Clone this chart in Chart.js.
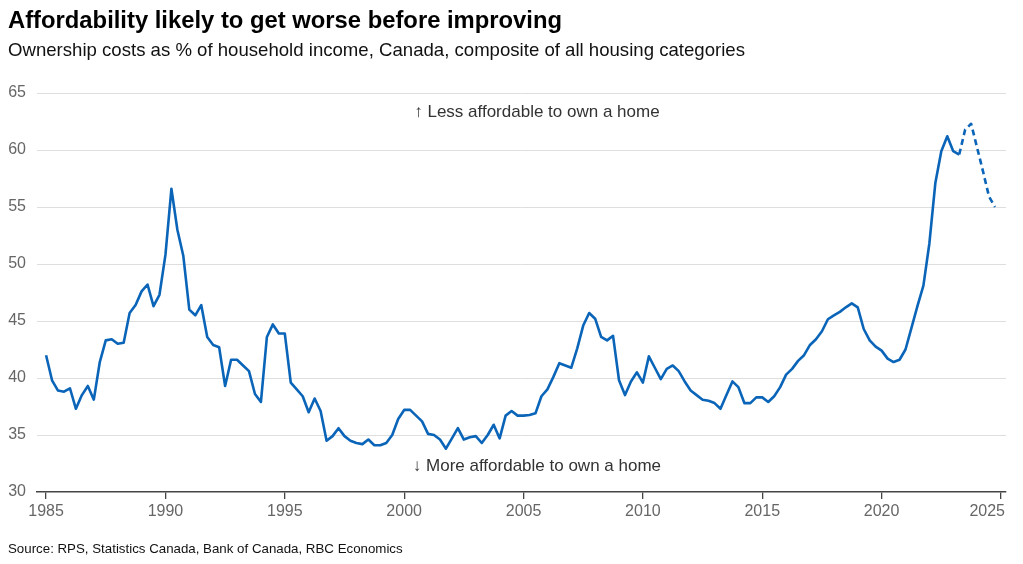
<!DOCTYPE html>
<html>
<head>
<meta charset="utf-8">
<script src="https://cdn.jsdelivr.net/npm/chart.js@4.4.1/dist/chart.umd.min.js"></script>
<style>
  html, body { margin: 0; padding: 0; background: #fff; }
  body { width: 1023px; height: 564px; position: relative; overflow: hidden;
         font-family: 'Liberation Sans', Arial, sans-serif; color: #111; }
  #wrap { position: absolute; left: 0; top: 0; width: 1023px; height: 564px; }
  .txt { position: absolute; left: 8px; line-height: 1; white-space: nowrap; }
  .title    { top: 8px;   font-size: 23.8px; font-weight: bold; color: #000; }
  .subtitle { top: 41px;  font-size: 18.6px; }
  .source   { top: 542px; font-size: 13.3px; }
</style>
</head>
<body>
<div id="wrap"><canvas id="chart"></canvas></div>
<div class="txt title">Affordability likely to get worse before improving</div>
<div class="txt subtitle">Ownership costs as % of household income, Canada, composite of all housing categories</div>
<div class="txt source">Source: RPS, Statistics Canada, Bank of Canada, RBC Economics</div>

<script>
/* Ownership costs as % of household income, quarterly from 1985Q1 */

const START_YEAR = 1985;   // first quarter of the series
const FONT       = '"Liberation Sans", Arial, sans-serif';
const LINE_COLOR = '#0a64b8';

// ── Data ──────────────────────────────────────────────────────────────────
// actual: 1985Q1 .. 2023Q2
const actual = [
    42.0, 39.8, 38.9, 38.8, 39.1, 37.3, 38.5, 39.3, 38.1, 41.4,
    43.3, 43.4, 43.0, 43.1, 45.7, 46.4, 47.6, 48.2, 46.3, 47.3,
    50.8, 56.6, 53.0, 50.7, 46.0, 45.5, 46.4, 43.6, 42.9, 42.7,
    39.3, 41.6, 41.6, 41.1, 40.6, 38.6, 37.9, 43.6, 44.7, 43.9,
    43.9, 39.6, 39.0, 38.4, 37.0, 38.2, 37.1, 34.5, 34.9, 35.6,
    34.9, 34.5, 34.3, 34.2, 34.6, 34.1, 34.1, 34.3, 35.0, 36.4,
    37.2, 37.2, 36.7, 36.2, 35.1, 35.0, 34.6, 33.8, 34.7, 35.6,
    34.6, 34.8, 34.9, 34.3, 35.0, 35.9, 34.7, 36.7, 37.1, 36.7,
    36.7, 36.75, 36.9, 38.4, 39.0, 40.1, 41.3, 41.1, 40.9, 42.6,
    44.6, 45.7, 45.2, 43.6, 43.3, 43.7, 39.8, 38.5, 39.7, 40.5,
    39.6, 41.9, 40.9, 39.9, 40.8, 41.1, 40.6, 39.7, 38.9, 38.5,
    38.1, 38.0, 37.8, 37.3, 38.5, 39.7, 39.2, 37.8, 37.8, 38.3,
    38.3, 37.9, 38.4, 39.2, 40.3, 40.8, 41.5, 42.0, 42.9, 43.4,
    44.1, 45.15, 45.5, 45.8, 46.2, 46.55, 46.2, 44.3, 43.3, 42.75,
    42.4, 41.7, 41.4, 41.6, 42.5, 44.4, 46.3, 48.1, 51.8, 57.1,
    59.9, 61.2, 59.9, 59.6
];
// forecast: 2023Q2 (joins last actual) .. 2024Q4
const forecast = [59.6, 61.8, 62.3, 60.2, 58.1, 55.9, 55.0];

const xTicks = [1985, 1990, 1995, 2000, 2005, 2010, 2015, 2020, 2025];
const yTicks = [30, 35, 40, 45, 50, 55, 60, 65];

const notes = [
    { text: '\u2191 Less affordable to own a home', x: 2005.56, y: 63.3 },
    { text: '\u2193 More affordable to own a home', x: 2005.56, y: 32.25 }
];

const toPoints = (vals, offset) =>
    vals.map((v, i) => ({ x: START_YEAR + (offset + i) / 4, y: v }));

// ── Year labels + annotations ─────────────────────────────────────────────
const overlay = {
    id: 'overlay',
    afterDraw(chart) {
        const { ctx, scales: { x, y } } = chart;
        ctx.save();
        ctx.font = '16px ' + FONT;
        ctx.fillStyle = '#666';
        ctx.textBaseline = 'top';
        xTicks.forEach((yr, i) => {
            const px   = x.getPixelForValue(yr);
            const last = i === xTicks.length - 1;
            ctx.textAlign = last ? 'right' : 'center';
            ctx.fillText(String(yr), last ? px + 4 : px, x.top + 12);
        });

        ctx.font = '17px ' + FONT;
        ctx.fillStyle = '#333';
        ctx.textAlign = 'center';
        ctx.textBaseline = 'middle';
        notes.forEach(n => ctx.fillText(n.text, x.getPixelForValue(n.x), y.getPixelForValue(n.y)));
        ctx.restore();
    }
};

// ── Chart ─────────────────────────────────────────────────────────────────
new Chart(document.getElementById('chart'), {
    type: 'line',
    data: {
        datasets: [
            {
                label: 'Actual',
                data: toPoints(actual, 0),
                borderColor: LINE_COLOR,
                borderWidth: 2.6,
                borderJoinStyle: 'round',
                pointRadius: 0,
                tension: 0
            },
            {
                label: 'Forecast',
                data: toPoints(forecast, actual.length - 1),
                borderColor: LINE_COLOR,
                borderWidth: 2.6,
                borderJoinStyle: 'round',
                borderDash: [6, 4],
                pointRadius: 0,
                tension: 0
            }
        ]
    },
    options: {
        responsive: true,
        maintainAspectRatio: false,
        animation: false,
        layout: { padding: { top: 93, right: 17, bottom: 42, left: 0 } },
        plugins: {
            legend: { display: false },
            tooltip: { enabled: false }
        },
        scales: {
            x: {
                type: 'linear',
                min: 1984.62,
                max: 2025.21,
                afterBuildTicks: s => { s.ticks = xTicks.map(v => ({ value: v })); },
                afterFit: s => { s.height = 30; },
                grid: { drawOnChartArea: false, drawTicks: true, tickLength: 7, color: '#444', lineWidth: 1.3 },
                border: { display: true, color: '#444', width: 1.5 },
                ticks: { display: false }
            },
            y: {
                min: 30,
                max: 65,
                afterBuildTicks: s => { s.ticks = yTicks.map(v => ({ value: v })); },
                afterFit: s => { s.width = 37; },
                grid: {
                    drawTicks: false,
                    color: c => c.tick && c.tick.value === 30 ? 'rgba(0,0,0,0)' : '#dedede',
                    lineWidth: 1
                },
                border: { display: false },
                ticks: { color: '#666', padding: 11, font: { size: 16, family: FONT } }
            }
        }
    },
    plugins: [overlay]
});
</script>
</body>
</html>
